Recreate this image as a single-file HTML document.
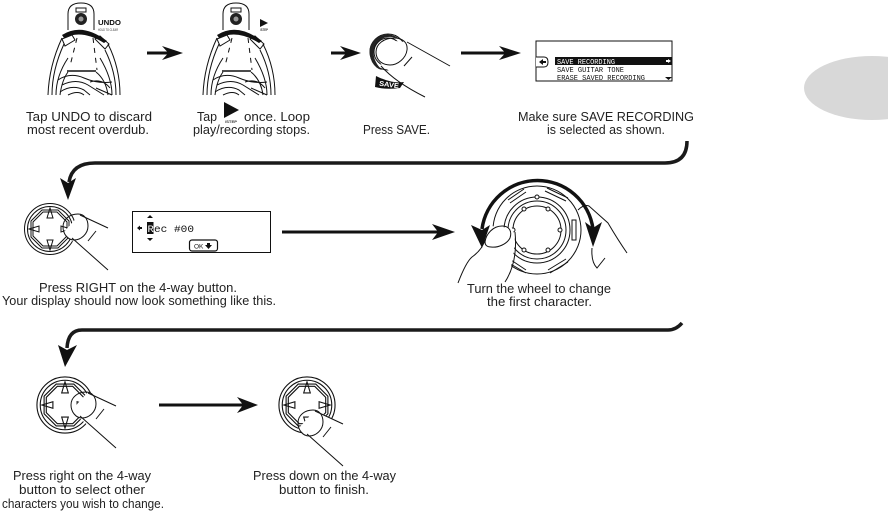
<!DOCTYPE html>
<html><head><meta charset="utf-8"><style>
html,body{margin:0;padding:0;background:#fff}
svg{display:block}
.c{font-family:"Liberation Sans",sans-serif;font-size:12.5px;fill:#222}
.m{font-family:"Liberation Mono",monospace;fill:#111}
.l{fill:none;stroke:#111;stroke-width:1}
.s{fill:none;stroke:#1a1a1a;stroke-width:3.5}
</style></head><body>
<svg width="888" height="513" viewBox="0 0 888 513" xmlns="http://www.w3.org/2000/svg">
<defs>
<g id="pedal">
<path class="l" stroke-width="1.2" d="M68 30V14Q68 3 81 3T94 14V30"/>
<rect x="76" y="8" width="10" height="4" class="l"/>
<circle cx="81" cy="19" r="6" fill="#222"/><circle cx="81" cy="19" r="2.500" fill="#999"/>
<path class="l" stroke-width="1.300" d="M48 95Q49 66 62 38M120 95Q120 68 108 44"/>
<path class="l" d="M52 95Q52 70 64 44M116 95Q116 72 105 50M56 95Q56 76 68 58M112 95Q112 78 100 58"/>
<path d="M62 35Q82 22 107 41L104 43Q82 29 64 38Z" fill="#111"/>
<path class="l" d="M62 39L72 35L75 40L65 46ZM100 36L109 44L105 49L95 39Z"/>
<path class="l" stroke-dasharray="5 5" d="M77 38L70 66M93 38L97 70"/>
<path d="M67 71H96" stroke="#111" stroke-width="1.600"/>
<path class="l" d="M60 95Q62 80 68 72M108 95Q106 80 96 72"/>
<path class="l" stroke-width="1.200" d="M58 80Q70 72 84 78T112 82M62 85Q76 78 88 85L104 95M60 92Q72 84 84 90L90 95M68 95Q78 90 84 95M90 82Q102 78 110 88M96 88L112 95"/>
</g>
<g id="fourway">
<circle r="25.500" class="l" stroke-width="1.300"/><circle r="22.500" class="l"/>
<path class="l" d="M-19 -8L-8 -19H8L19 -8V8L8 19H-8L-19 8Z"/><path class="l" d="M-17 -7L-7 -17H7L17 -7V7L7 17H-7L-17 7Z"/>
<path class="l" fill="#fff" d="M0 -21L-3 -11H3Z"/><path class="l" fill="#fff" d="M0 21L-3 11H3Z"/><path class="l" fill="#fff" d="M-21 0L-11 -3V3Z"/><path class="l" fill="#fff" d="M21 0L11 -3V3Z"/>
</g>
<g id="finger">
<path d="M-12 6L33 44V1L5 -13Z" fill="#fff"/>
<path class="l" d="M5 -12L33 1M-3 11L33 43"/>
<path class="l" fill="#fff" stroke-width="1.200" d="M-12 0C-12 -8 -5 -13 3 -13C10 -13 13 -7 13 -1C13 7 6 13 -1 13C-7 13 -12 7 -12 0Z"/>
<path class="l" d="M13 14L21 4"/>
</g>
</defs>

<ellipse cx="872" cy="88" rx="68" ry="32" fill="#d8d8d8"/>

<!-- row 1 -->
<use href="#pedal"/>
<use href="#pedal" x="155"/>
<text x="98" y="25" font-family="Liberation Sans" font-weight="bold" font-size="7.500" textLength="23" lengthAdjust="spacingAndGlyphs" fill="#111">UNDO</text>
<text x="98" y="31" font-family="Liberation Sans" font-size="3.500" textLength="20" lengthAdjust="spacingAndGlyphs" fill="#333">HOLD TO CLEAR</text>
<path d="M260 19L268 23L260 27Z" fill="#111"/>
<text x="260" y="31" font-family="Liberation Sans" font-size="3.500" font-weight="bold" textLength="8" lengthAdjust="spacingAndGlyphs" fill="#333">/STEP</text>

<!-- arrows -->
<g fill="#111">
<path d="M147 51.500H167L162 46L183 53L162 60L167 54.500H147Z"/>
<path d="M331 51.500H345L340 46L361 53L340 60L345 54.500H331Z"/>
<path d="M461 51.500H504L499 46L521 53L499 60L504 54.500H461Z"/>
<path d="M282 230.500H437L432 224L455 232L432 240L437 233.500H282Z"/>
<path d="M159 403.500H242L237 397L258 405L237 413L242 406.500H159Z"/>
<path d="M60 178L68 200L76 178L68 183Z"/>
<path d="M58 345L65 367L77 345L67 350Z"/>
</g>
<path class="s" d="M687 141Q687 163 665 163H95Q72 163 69 182"/>
<path class="s" d="M682 323Q676 330 668 330H82Q68 330 67 348"/>

<!-- SAVE button -->
<circle cx="388" cy="52" r="18" class="l" stroke-width="1.200"/>
<path d="M404 43Q392 30 378 37Q365 45 372 62Q376 69 382 70Q372 60 374 50Q378 36 392 37Q400 38 404 43Z" fill="#222"/>
<circle cx="388" cy="52" r="14" class="l"/>
<path d="M376 76Q392 84 404 82L400 88Q386 90 375 87Z" fill="#111"/>
<text x="379" y="87" font-family="Liberation Sans" font-weight="bold" font-size="7" textLength="20" lengthAdjust="spacingAndGlyphs" fill="#fff" transform="rotate(8 389 85)">SAVE</text>
<path d="M380 62L386 40L405 42L450 66L430 98L382 66Z" fill="#fff"/>
<path class="l" d="M407 42L450 66M381 66Q395 82 425 97"/>
<path class="l" fill="#fff" stroke-width="1.200" d="M376 52C376 44 384 38 394 38C402 38 408 42 407 50C406 58 398 65 390 65C382 65 376 60 376 52Z"/>
<path class="l" d="M404 66L412 57"/>

<!-- LCD 1 -->
<rect x="536" y="41" width="136" height="40" fill="#fff" stroke="#111" stroke-width="1"/>
<rect x="555" y="57" width="117" height="8" fill="#111"/>
<path d="M536 57H544Q548 57 548 62Q548 67 544 67H536" fill="#fff" stroke="#111"/>
<path d="M539 62L543 59V61H546V63H543V65Z" fill="#111"/>
<text x="557" y="64" class="m" font-size="7" textLength="58" lengthAdjust="spacingAndGlyphs" style="fill:#fff">SAVE RECORDING</text>
<text x="557" y="72" class="m" font-size="7" textLength="67" lengthAdjust="spacingAndGlyphs">SAVE GUITAR TONE</text>
<text x="557" y="80" class="m" font-size="7" textLength="88" lengthAdjust="spacingAndGlyphs">ERASE SAVED RECORDING</text>
<path d="M666 60H668V59L671 61L668 63V62H666Z" fill="#fff"/>
<path d="M665 77H672L668.500 80Z" fill="#111"/>

<!-- 4-way 1 + finger -->
<use href="#fourway" transform="translate(50 229)"/>
<use href="#finger" transform="translate(75 227)"/>

<!-- LCD 2 -->
<rect x="132.500" y="211.500" width="138" height="41" fill="#fff" stroke="#111"/>
<rect x="147" y="222" width="6.500" height="12" fill="#111"/>
<text x="147.500" y="232" class="m" font-size="10.500" style="fill:#fff">R</text>
<text x="154" y="232" class="m" font-size="10.500" textLength="40" lengthAdjust="spacingAndGlyphs">ec #00</text>
<path d="M137 228L140 225.500V227H142V229H140V230.500Z M147 218L150 215L153 218Z M147 238H153L150 241Z" fill="#111"/>
<rect x="189.500" y="240" width="28" height="11" rx="2.500" fill="#fff" stroke="#111" stroke-width="1.200"/>
<text x="194" y="248.500" font-family="Liberation Sans" font-size="6.500" fill="#111">OK</text>
<path d="M205 245H207V243H210V245H212L208.500 249Z" fill="#111"/>

<!-- wheel -->
<circle cx="537" cy="230" r="44" class="l"/>
<circle cx="537" cy="230" r="33" class="l"/>
<circle cx="537" cy="230" r="29" class="l"/>
<circle cx="537" cy="230" r="24" class="l"/>
<g fill="#fff" stroke="#111" stroke-width="1">
<circle cx="537" cy="197" r="2"/><circle cx="524" cy="209" r="2"/><circle cx="548" cy="209" r="2"/><circle cx="560" cy="230" r="2"/><circle cx="513" cy="230" r="2"/><circle cx="524" cy="250" r="2"/><circle cx="548" cy="250" r="2"/>
<rect x="572" y="220" width="4" height="20"/>
</g>
<path class="l" d="M510 203L526 192M545 191L566 201M548 270L566 259M511 260L526 270"/>
<path class="l" d="M508 200L524 189M547 188L568 198M550 273L568 262M509 263L526 273"/>
<path d="M583 210Q590 204 596 208L608 223L627 253L603 258L597 268Q590 262 592 248Z" fill="#fff"/>
<path class="l" d="M578 210Q584 204 589 206L608 223Q618 240 627 253M592 248Q591 262 597 268L605 258"/>
<path d="M458 283L483 248L490 226L512 228L515 236Q514 265 505 283Z" fill="#fff"/>
<path class="l" d="M458 283Q466 262 472 257Q482 250 485 240M515 232Q518 262 505 282"/>
<path class="l" fill="#fff" stroke-width="1.200" d="M485 242C486 234 493 226 502 226C510 226 512 232 510 238C507 244 498 248 491 247C487 247 485 245 485 242Z"/>
<path d="M482 229A56 56 0 0 1 593 229" fill="none" stroke="#111" stroke-width="3.500"/>
<path d="M471 225L482 248L490 225L482 230Z" fill="#111"/>
<path d="M585 222L593 247L602 222L593 228Z" fill="#111"/>

<!-- row 3 -->
<use href="#fourway" transform="translate(65 405) scale(1.100)"/>
<use href="#finger" transform="translate(83 405)"/>
<use href="#fourway" transform="translate(307 405) scale(1.100)"/>
<use href="#finger" transform="translate(310 423)"/>

<!-- inline play icon -->
<path d="M224 102L239 110L224 118Z" fill="#111"/>
<text x="225" y="123" font-family="Liberation Sans" font-size="4" font-weight="bold" textLength="12" lengthAdjust="spacingAndGlyphs" fill="#333">/STEP</text>

<!-- captions -->
<g class="c">
<text x="26" y="121" textLength="126" lengthAdjust="spacingAndGlyphs">Tap UNDO to discard</text>
<text x="27" y="134" textLength="122" lengthAdjust="spacingAndGlyphs">most recent overdub.</text>
<text x="197" y="121" textLength="20" lengthAdjust="spacingAndGlyphs">Tap</text>
<text x="244" y="121" textLength="66" lengthAdjust="spacingAndGlyphs">once. Loop</text>
<text x="193" y="134" textLength="117" lengthAdjust="spacingAndGlyphs">play/recording stops.</text>
<text x="363" y="134" textLength="67" lengthAdjust="spacingAndGlyphs">Press SAVE.</text>
<text x="518" y="121" textLength="176" lengthAdjust="spacingAndGlyphs">Make sure SAVE RECORDING</text>
<text x="547" y="134" textLength="118" lengthAdjust="spacingAndGlyphs">is selected as shown.</text>
<text x="39" y="292" textLength="198" lengthAdjust="spacingAndGlyphs">Press RIGHT on the 4-way button.</text>
<text x="2" y="305" textLength="274" lengthAdjust="spacingAndGlyphs">Your display should now look something like this.</text>
<text x="467" y="293" textLength="144" lengthAdjust="spacingAndGlyphs">Turn the wheel to change</text>
<text x="487" y="306" textLength="105" lengthAdjust="spacingAndGlyphs">the first character.</text>
<text x="13" y="480" textLength="138" lengthAdjust="spacingAndGlyphs">Press right on the 4-way</text>
<text x="19" y="494" textLength="126" lengthAdjust="spacingAndGlyphs">button to select other</text>
<text x="2" y="508" textLength="162" lengthAdjust="spacingAndGlyphs">characters you wish to change.</text>
<text x="253" y="480" textLength="143" lengthAdjust="spacingAndGlyphs">Press down on the 4-way</text>
<text x="279" y="494" textLength="90" lengthAdjust="spacingAndGlyphs">button to finish.</text>
</g>
</svg>
</body></html>
